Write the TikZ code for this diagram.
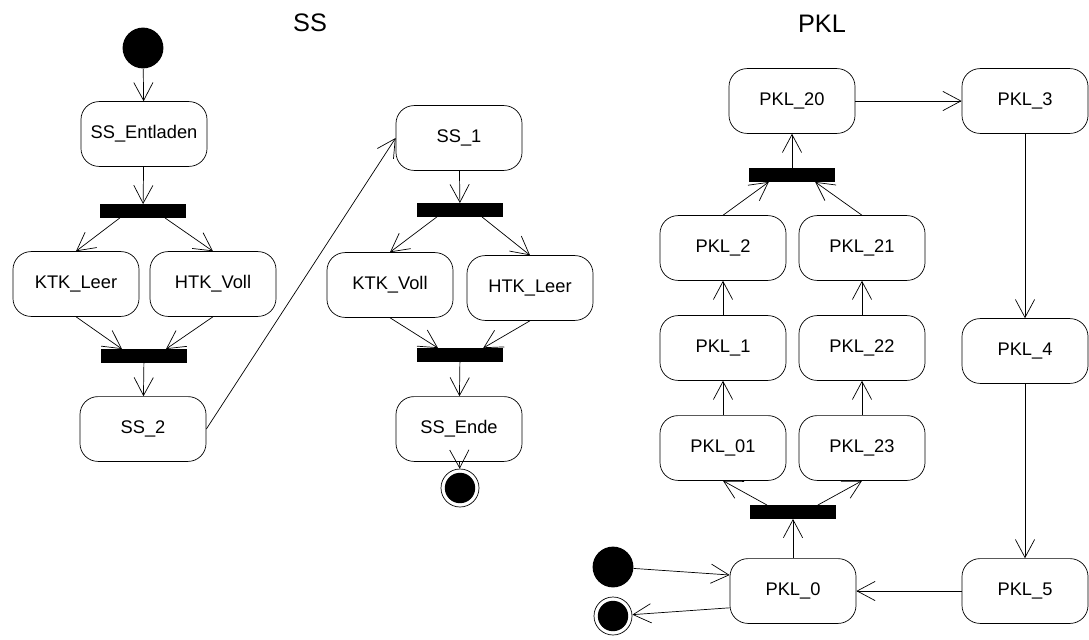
\documentclass[tikz,border=0pt]{standalone}
\usepackage{fontspec}
\setmainfont{Liberation Sans}
\usetikzlibrary{arrows.meta}

\begin{document}
\begin{tikzpicture}[x=0.025cm, y=0.025cm, line width=0.5pt,
    >={Straight Barb[length=0.45cm, width=0.48cm]},
    state/.style={draw, rounded corners=0.45cm, minimum width=3.15cm, minimum height=1.62cm,
      font=\fontsize{13}{15}\selectfont},
    bar/.style={fill=black, minimum width=2.15cm, minimum height=0.33cm, inner sep=0pt},
    init/.style={circle, fill=black, minimum size=1.02cm, inner sep=0pt},
    final/.style={circle, draw, minimum size=0.95cm, inner sep=0pt,
      path picture={\fill (path picture bounding box.center) circle (0.38cm);}},
    ttl/.style={font=\fontsize{18}{20}\selectfont}]
  \useasboundingbox (0,0) rectangle (1089,-639);

  \node[ttl] (ttlss) at (310,-23) {SS};
  \node[ttl] (ttlpkl) at (822,-24) {PKL};

  % SS
  \node[init] (ss_start) at (143,-48) {};
  \node[state] (ss_entl) at (144,-134) {SS\_Entladen};
  \node[bar] (ss_fork1) at (143,-211) {};
  \node[state] (ktk_leer) at (76,-284) {KTK\_Leer};
  \node[state] (htk_voll) at (213,-284) {HTK\_Voll};
  \node[bar] (ss_join1) at (144,-356) {};
  \node[state] (ss_2) at (143,-429) {SS\_2};
  \node[state] (ss_1) at (459,-138) {SS\_1};
  \node[bar] (ss_fork2) at (460,-210) {};
  \node[state] (ktk_voll) at (390,-285) {KTK\_Voll};
  \node[state] (htk_leer) at (530,-288) {HTK\_Leer};
  \node[bar] (ss_join2) at (460,-355) {};
  \node[state] (ss_ende) at (459,-429) {SS\_Ende};
  \node[final] (ss_end) at (460,-488) {};

  \draw[->] (ss_start) -- (ss_entl);
  \draw[->] (ss_entl) -- (ss_fork1);
  \draw[->] ([xshift=-0.58cm]ss_fork1.south) -- (ktk_leer.north);
  \draw[->] ([xshift=0.55cm]ss_fork1.south) -- (htk_voll.north);
  \draw[->] (ktk_leer.south) -- ([xshift=-0.55cm]ss_join1.north);
  \draw[->] (htk_voll.south) -- ([xshift=0.55cm]ss_join1.north);
  \draw[->] (ss_join1) -- (ss_2);
  \draw[->] (ss_2.east) -- (ss_1.west);
  \draw[->] (ss_1) -- (ss_fork2);
  \draw[->] ([xshift=-0.58cm]ss_fork2.south) -- (ktk_voll.north);
  \draw[->] ([xshift=0.55cm]ss_fork2.south) -- (htk_leer.north);
  \draw[->] (ktk_voll.south) -- ([xshift=-0.55cm]ss_join2.north);
  \draw[->] (htk_leer.south) -- ([xshift=0.58cm]ss_join2.north);
  \draw[->] (ss_join2) -- (ss_ende);
  \draw[->] (ss_ende) -- (ss_end);

  % PKL
  \node[init] (pkl_start) at (613,-567) {};
  \node[final] (pkl_end) at (613,-616) {};
  \node[state] (pkl_0) at (793,-591) {PKL\_0};
  \node[bar] (pkl_fork) at (793,-512) {};
  \node[state] (pkl_01) at (723,-448) {PKL\_01};
  \node[state] (pkl_1) at (723,-348) {PKL\_1};
  \node[state] (pkl_2) at (723,-248) {PKL\_2};
  \node[state] (pkl_23) at (862,-448) {PKL\_23};
  \node[state] (pkl_22) at (862,-348) {PKL\_22};
  \node[state] (pkl_21) at (862,-248) {PKL\_21};
  \node[bar] (pkl_join) at (792,-175) {};
  \node[state] (pkl_20) at (792,-101) {PKL\_20};
  \node[state] (pkl_3) at (1025,-101) {PKL\_3};
  \node[state] (pkl_4) at (1025,-351) {PKL\_4};
  \node[state] (pkl_5) at (1025,-591) {PKL\_5};

  \draw[->] (pkl_start) -- ([yshift=0.4cm]pkl_0.west);
  \draw[->] ([yshift=-0.42cm]pkl_0.west) -- (pkl_end);
  \draw[->] (pkl_0) -- (pkl_fork);
  \draw[->] ([xshift=-0.65cm]pkl_fork.north) -- (pkl_01.south);
  \draw[->] ([xshift=0.62cm]pkl_fork.north) -- (pkl_23.south);
  \draw[->] (pkl_01) -- (pkl_1);
  \draw[->] (pkl_1) -- (pkl_2);
  \draw[->] (pkl_23) -- (pkl_22);
  \draw[->] (pkl_22) -- (pkl_21);
  \draw[->] (pkl_2.north) -- ([xshift=-0.58cm]pkl_join.south);
  \draw[->] (pkl_21.north) -- ([xshift=0.58cm]pkl_join.south);
  \draw[->] (pkl_join) -- (pkl_20);
  \draw[->] (pkl_20) -- (pkl_3);
  \draw[->] (pkl_3) -- (pkl_4);
  \draw[->] (pkl_4) -- (pkl_5);
  \draw[->] (pkl_5) -- (pkl_0);
\end{tikzpicture}
\end{document}
